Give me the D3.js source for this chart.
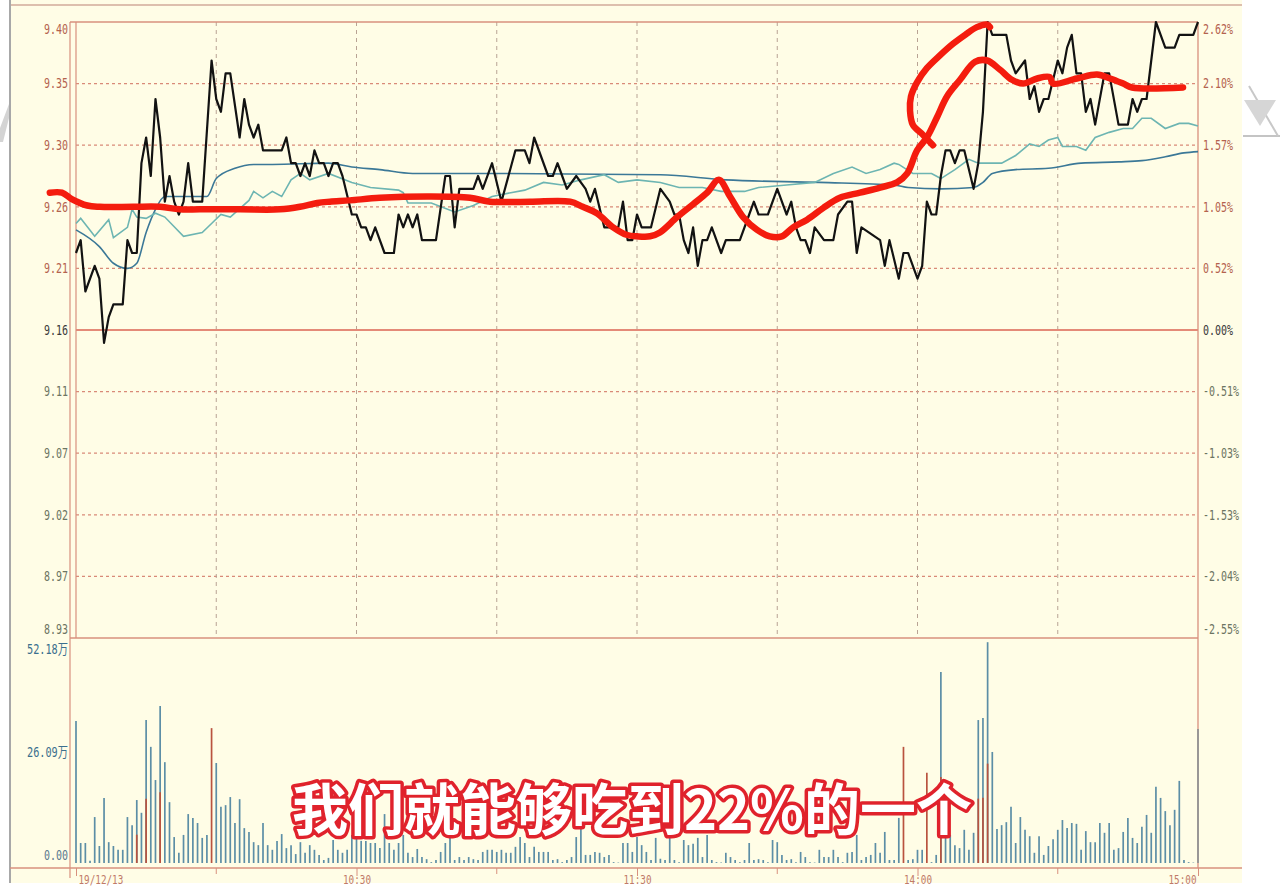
<!DOCTYPE html>
<html><head><meta charset="utf-8">
<script src="https://cdn.jsdelivr.net/npm/d3@7"></script>
<style>body{margin:0;background:#fff}svg{display:block}</style>
</head><body><svg id="c" width="1280" height="891"></svg>
<script>
// ---------------- DATA ----------------
const prevClose = 9.16;
const priceHalfRange = 0.24;
const gridStep = 0.048;
const priceTickLabels = ["9.40","9.35","9.30","9.26","9.21","9.16","9.11","9.07","9.02","8.97","8.93"];
const pctTickLabels = ["2.62%","2.10%","1.57%","1.05%","0.52%","0.00%","-0.51%","-1.03%","-1.53%","-2.04%","-2.55%"];
const volumeMax = 52.18;
const volumeTicks = [52.18, 26.09, 0];
const volumeTickLabels = ["52.18万","26.09万","0.00"];
const timeTicks = [0, 60, 120, 180, 240];
const timeTickLabels = ["19/12/13","10:30","11:30","14:00","15:00"];
const gridMinutes = [30, 60, 90, 120, 150, 180, 210];
const subtitle = "我们就能够吃到22%的一个";

// price line: [minute, price]
const pricePoints = [[0,9.22],[1,9.23],[2,9.19],[4,9.21],[5,9.20],[6,9.15],[7,9.17],[8,9.18],[10,9.18],[11,9.23],[12,9.22],[13,9.22],[14,9.29],[15,9.31],[16,9.28],[17,9.34],[18,9.31],[19,9.26],[20,9.28],[21,9.26],[22,9.25],[23,9.26],[24,9.29],[25,9.26],[27,9.26],[29,9.37],[30,9.34],[31,9.33],[32,9.36],[33,9.36],[35,9.31],[36,9.34],[37,9.32],[38,9.31],[39,9.32],[40,9.30],[44,9.30],[45,9.31],[46,9.29],[47,9.29],[48,9.28],[49,9.29],[50,9.28],[51,9.30],[52,9.29],[53,9.29],[54,9.28],[55,9.29],[56,9.29],[57,9.28],[59,9.25],[60,9.25],[61,9.24],[62,9.24],[63,9.23],[64,9.24],[66,9.22],[68,9.22],[69,9.25],[70,9.24],[71,9.25],[72,9.24],[73,9.25],[74,9.23],[77,9.23],[79,9.28],[80,9.28],[81,9.24],[82,9.27],[85,9.27],[86,9.28],[87,9.27],[89,9.29],[91,9.26],[94,9.30],[96,9.30],[97,9.29],[98,9.31],[101,9.28],[102,9.28],[103,9.29],[104,9.28],[105,9.27],[107,9.28],[109,9.27],[110,9.26],[111,9.27],[113,9.24],[116,9.24],[117,9.26],[118,9.23],[119,9.23],[120,9.25],[121,9.24],[123,9.24],[125,9.27],[127,9.26],[128,9.25],[129,9.25],[130,9.23],[131,9.22],[132,9.24],[133,9.21],[134,9.23],[135,9.23],[136,9.24],[138,9.22],[139,9.23],[142,9.23],[144,9.25],[145,9.26],[146,9.25],[148,9.25],[150,9.27],[152,9.25],[153,9.26],[154,9.24],[155,9.23],[156,9.23],[157,9.22],[158,9.24],[160,9.23],[162,9.23],[163,9.25],[165,9.26],[166,9.26],[167,9.22],[168,9.24],[172,9.23],[173,9.21],[174,9.23],[176,9.20],[177,9.22],[178,9.22],[180,9.20],[181,9.21],[182,9.26],[183,9.25],[184,9.25],[185,9.28],[186,9.30],[187,9.30],[188,9.29],[189,9.30],[190,9.30],[192,9.27],[193,9.29],[194,9.33],[195,9.40],[196,9.39],[199,9.39],[200,9.37],[201,9.36],[203,9.37],[204,9.34],[205,9.35],[206,9.33],[207,9.34],[208,9.34],[210,9.37],[211,9.36],[212,9.38],[213,9.39],[214,9.36],[215,9.36],[216,9.33],[217,9.34],[218,9.32],[220,9.36],[221,9.36],[223,9.32],[225,9.32],[226,9.34],[227,9.33],[228,9.34],[229,9.34],[231,9.40],[233,9.38],[235,9.38],[236,9.39],[239,9.39],[240,9.40]];

// average price line (dark blue)
const avgPoints = [[0,9.238],[5,9.225],[8,9.212],[11,9.208],[13,9.212],[15,9.236],[17,9.254],[19,9.264],[28,9.264],[30,9.278],[34,9.286],[38,9.289],[42,9.289],[54,9.290],[59,9.287],[65,9.285],[72,9.282],[91,9.282],[125,9.281],[139,9.277],[159,9.275],[175,9.273],[178,9.271],[185,9.270],[192,9.271],[194,9.275],[196,9.282],[201,9.285],[208,9.286],[215,9.290],[223,9.291],[228,9.292],[233,9.295],[237,9.298],[240,9.299]];

// second moving line (teal)
const tealPoints = [[0,9.243],[1,9.247],[4,9.233],[7,9.246],[8,9.232],[11,9.240],[12,9.254],[13,9.248],[15,9.247],[17,9.251],[19,9.248],[23,9.233],[27,9.236],[29,9.243],[31,9.250],[33,9.248],[37,9.261],[38,9.268],[40,9.263],[42,9.268],[44,9.264],[46,9.277],[48,9.282],[50,9.277],[54,9.282],[59,9.275],[63,9.271],[69,9.269],[70,9.267],[71,9.259],[76,9.259],[81,9.252],[85,9.257],[89,9.264],[93,9.267],[96,9.269],[100,9.275],[104,9.273],[108,9.277],[113,9.281],[116,9.275],[120,9.277],[125,9.275],[129,9.271],[134,9.271],[138,9.268],[143,9.268],[146,9.271],[152,9.273],[158,9.275],[162,9.282],[166,9.287],[169,9.282],[172,9.285],[175,9.290],[176,9.289],[179,9.282],[183,9.282],[185,9.278],[188,9.285],[191,9.293],[193,9.290],[198,9.290],[201,9.296],[204,9.305],[206,9.303],[208,9.308],[210,9.310],[211,9.303],[214,9.303],[216,9.300],[218,9.310],[221,9.314],[224,9.317],[226,9.317],[228,9.325],[230,9.325],[233,9.317],[236,9.321],[238,9.321],[240,9.319]];

// hand-drawn red annotation strokes: [minute, price]
const redStrokeMain = [[-5.6,9.267],[-3.0,9.267],[-0.9,9.262],[2.4,9.257],[5.1,9.256],[12.2,9.256],[18,9.256],[22.2,9.254],[26.5,9.254],[35.1,9.254],[43.6,9.254],[47.9,9.256],[51.6,9.259],[54.3,9.260],[58.6,9.261],[65,9.263],[75.7,9.264],[84.3,9.263],[88.6,9.260],[97.1,9.260],[105.7,9.260],[108.4,9.256],[111.4,9.251],[114.9,9.240],[117.9,9.234],[120,9.233],[122.8,9.233],[124.9,9.236],[128.6,9.248],[132,9.258],[135,9.267],[137.5,9.277],[139.9,9.264],[142.7,9.248],[145.7,9.238],[148.4,9.233],[151,9.233],[153.4,9.240],[156.4,9.246],[159.8,9.255],[163.4,9.263],[167.7,9.267],[172,9.271],[175.6,9.275],[177.8,9.282],[179.9,9.300],[182,9.310],[184.2,9.326],[186.3,9.342],[189.1,9.355],[192.3,9.369],[194.9,9.370],[197.6,9.363],[200.2,9.355],[202.6,9.352],[205.6,9.356],[208.3,9.357],[209,9.352],[214.1,9.356],[218.4,9.359],[221.2,9.356],[224,9.352],[225.9,9.349],[236.8,9.349]];
const redStrokeLoop = [[183.3,9.304],[181.2,9.312],[179,9.320],[178.4,9.331],[178.6,9.342],[179.9,9.353],[182,9.364],[184.8,9.374],[187.6,9.383],[190.2,9.390],[192.7,9.396],[194.9,9.398],[195.5,9.396]];

// volume per minute (万)
const volumes = [33.4,4.7,4.7,0.5,10.8,4.0,15.3,4.9,4.0,3.1,3.1,10.8,8.9,14.8,11.8,33.6,27.3,19.5,36.9,23.7,
14.3,6.1,2.4,6.6,11.5,10.6,9.4,5.9,6.6,31.7,23.5,13.2,13.6,15.5,9.4,15.0,8.2,7.3,4.9,4.2,
9.4,4.2,3.1,5.2,6.8,3.5,4.2,2.1,4.9,2.4,4.2,3.1,1.9,0.7,1.2,5.4,3.1,2.4,3.1,6.6,
6.1,5.2,5.2,4.7,4.7,3.5,11.5,4.7,3.1,4.7,6.6,2.4,1.4,3.3,1.4,0.9,0.2,0.7,2.6,4.7,
6.1,0.7,1.4,0.7,1.4,0.9,0.7,2.6,3.1,3.1,2.6,3.1,2.4,2.4,3.8,6.1,4.7,1.4,3.8,2.6,
2.6,2.6,0.7,0.9,0.2,0.7,1.4,6.1,8.5,1.9,1.9,2.6,2.4,1.4,1.9,0.2,0.1,4.7,4.7,2.6,
6.1,4.2,2.6,0.7,5.9,1.0,0.7,5.9,0.7,0.2,5.4,4.2,4.5,5.9,1.4,6.6,0.7,0.2,0.1,2.4,
1.4,0.7,0.2,0.7,4.7,0.7,0.9,0.7,0.2,5.4,4.9,1.9,0.7,0.9,0.2,2.6,1.4,0.2,0.1,3.1,
1.4,1.4,3.1,1.4,0.2,2.4,2.6,6.6,0.7,1.4,1.9,4.7,2.4,7.3,0.7,0.7,10.6,27.3,0.7,0.9,
3.1,3.1,21.2,0.2,1.9,44.9,8.0,6.6,4.2,3.5,7.8,3.1,7.1,33.6,34.1,51.9,26.1,8.0,8.9,9.6,
13.2,4.7,10.8,7.8,6.3,2.4,6.3,1.9,4.0,5.6,7.8,10.1,8.2,9.4,9.2,3.1,7.5,4.9,4.9,9.4,
7.1,9.4,3.1,3.5,7.3,10.6,5.9,4.7,8.5,11.3,7.1,17.9,15.3,12.2,8.9,12.5,19.3,0.7,0.2,0.1,
31.5];
const redVolumeMinutes = [29, 177, 182];
const mixedVolumeMinutes = [13, 15, 18, 185, 193, 194, 195];
const greyVolumeMinutes = [240];

// ---------------- DRAW ----------------
const svg = d3.select('#c');
const plot = {left:76, right:1198, top:22, bottom:638};
const vol = {top:641, bottom:863, axis:868};

const x = d3.scaleLinear().domain([0,240]).range([plot.left, plot.right]);
const y = d3.scaleLinear().domain([prevClose-priceHalfRange, prevClose+priceHalfRange]).range([plot.bottom, plot.top]);
const yv = d3.scaleLinear().domain([0, volumeMax]).range([vol.bottom, vol.top]);

const cream = '#fffde6';
svg.append('rect').attr('x',0).attr('y',0).attr('width',1280).attr('height',891).attr('fill','#fff');
svg.append('rect').attr('x',10).attr('y',0).attr('width',1232).attr('height',883).attr('fill',cream);

// watermark shapes (outside panel)
svg.append('path').attr('d','M1243,136 L1280,136').attr('stroke','#c4c4c4').attr('stroke-width',2);
svg.append('path').attr('d','M1249,86 L1278,136').attr('stroke','#c8c8c8').attr('stroke-width',2).attr('fill','none');
svg.append('path').attr('d','M1244,100 L1276,100 L1260,126 Z').attr('fill','#d6d6d6');
svg.append('path').attr('d','M0,128 L9,104 L9,118 L3,142 L0,142 Z').attr('fill','#d4d4d4');

// frame lines
svg.append('line').attr('x1',10).attr('x2',1242).attr('y1',5).attr('y2',5).attr('stroke','#d2aa9a').attr('stroke-width',1.5);
svg.append('line').attr('x1',10).attr('x2',10).attr('y1',0).attr('y2',883).attr('stroke','#a8a8a8').attr('stroke-width',2);

const borderColor = '#d8907e';
// horizontal dotted grid
const levels = d3.range(5,-6,-1).map(k => prevClose + k*gridStep);
svg.append('g').selectAll('line').data(levels.filter((d,i)=>i!==0 && i!==5 && i!==10)).join('line')
  .attr('x1',plot.left).attr('x2',plot.right).attr('y1',d=>y(d)).attr('y2',d=>y(d))
  .attr('stroke','#d98a78').attr('stroke-width',1.2).attr('stroke-dasharray','3,3');
// vertical dashed grid
svg.append('g').selectAll('line').data(gridMinutes).join('line')
  .attr('x1',d=>x(d)).attr('x2',d=>x(d)).attr('y1',plot.top).attr('y2',plot.bottom)
  .attr('stroke','#b9a394').attr('stroke-width',1).attr('stroke-dasharray','4,4');
// prev close line
svg.append('line').attr('x1',plot.left).attr('x2',plot.right).attr('y1',y(prevClose)).attr('y2',y(prevClose))
  .attr('stroke','#e48a78').attr('stroke-width',2);

// borders
svg.append('line').attr('x1',70).attr('x2',plot.right).attr('y1',plot.top).attr('y2',plot.top).attr('stroke',borderColor).attr('stroke-width',1.3);
svg.append('line').attr('x1',70).attr('x2',plot.right).attr('y1',plot.bottom).attr('y2',plot.bottom).attr('stroke',borderColor).attr('stroke-width',1.5);
svg.append('line').attr('x1',70).attr('x2',70).attr('y1',plot.top).attr('y2',878).attr('stroke',borderColor).attr('stroke-width',1.2);
svg.append('line').attr('x1',plot.left).attr('x2',plot.left).attr('y1',plot.top).attr('y2',plot.bottom).attr('stroke',borderColor).attr('stroke-width',1.2);
svg.append('line').attr('x1',plot.right).attr('x2',plot.right).attr('y1',plot.top).attr('y2',vol.axis).attr('stroke',borderColor).attr('stroke-width',1.3);
svg.append('line').attr('x1',10).attr('x2',1242).attr('y1',vol.axis).attr('y2',vol.axis).attr('stroke',borderColor).attr('stroke-width',1.5);

// label colors
const upColor = '#b4624e', flatColor = '#3a3a3a', downColor = '#6c7462';
const labelFont = "'DejaVu Sans Mono','Liberation Mono',monospace";

// left price axis
const leftAxis = d3.axisLeft(y).tickValues(levels).tickFormat((d,i)=>priceTickLabels[i]).tickSize(0).tickPadding(2);
const gL = svg.append('g').attr('transform','translate(70,0)').call(leftAxis);
gL.select('.domain').remove();
gL.selectAll('text').attr('font-family',labelFont).attr('font-size',13.5)
  .attr('fill',(d,i)=> i<5?upColor:(i===5?flatColor:downColor))
  .attr('textLength',(d,i)=>priceTickLabels[i].length*6).attr('lengthAdjust','spacingAndGlyphs')
  .attr('dy',(d,i)=> i===0? '0.85em' : (i===10 ? '-0.3em' : '0.32em'));

// right pct axis
const rightAxis = d3.axisRight(y).tickValues(levels).tickFormat((d,i)=>pctTickLabels[i]).tickSize(0).tickPadding(5);
const gR = svg.append('g').attr('transform',`translate(${plot.right},0)`).call(rightAxis);
gR.select('.domain').remove();
gR.selectAll('text').attr('font-family',labelFont).attr('font-size',13.5)
  .attr('fill',(d,i)=> i<5?upColor:(i===5?flatColor:downColor))
  .attr('textLength',(d,i)=>pctTickLabels[i].length*6).attr('lengthAdjust','spacingAndGlyphs')
  .attr('dy',(d,i)=> i===0? '0.85em' : (i===10 ? '-0.3em' : '0.32em'));

// volume axis
const volAxis = d3.axisLeft(yv).tickValues(volumeTicks).tickFormat((d,i)=>volumeTickLabels[i]).tickSize(0).tickPadding(2);
const gV = svg.append('g').attr('transform','translate(70,0)').call(volAxis);
gV.select('.domain').remove();
gV.selectAll('text').attr('font-family',"'DejaVu Sans Mono','Noto Sans CJK SC',monospace").attr('font-size',13.5)
  .attr('fill',(d,i)=> i===2 ? '#5a7890' : '#3b6f8e')
  .attr('textLength',(d,i)=> volumeTickLabels[i].length===6 ? 41 : 24).attr('lengthAdjust','spacingAndGlyphs')
  .attr('dy',(d,i)=> i===0? '0.9em' : (i===2 ? '-0.25em' : '0.32em'));

// time axis
const timeAxis = d3.axisBottom(x).tickValues(timeTicks).tickFormat((d,i)=>timeTickLabels[i]).tickSize(8).tickPadding(-1);
const gT = svg.append('g').attr('transform',`translate(0,${vol.axis})`).call(timeAxis);
gT.select('.domain').remove();
gT.selectAll('line').attr('stroke',borderColor);
gT.selectAll('text').attr('font-family',labelFont).attr('font-size',12).attr('fill','#c07a68')
  .attr('text-anchor',(d,i)=> i===0?'start':(i===4?'end':'middle'))
  .attr('dx',(d,i)=> i===0? 2 : (i===4 ? -2 : 0))
  .attr('textLength',(d,i)=>timeTickLabels[i].length*5.6).attr('lengthAdjust','spacingAndGlyphs');
svg.append('g').selectAll('line').data(gridMinutes.filter(d=>d%60!==0)).join('line')
  .attr('x1',d=>x(d)).attr('x2',d=>x(d)).attr('y1',vol.axis).attr('y2',vol.axis+6).attr('stroke',borderColor);

// volume bars
const volColor = i => redVolumeMinutes.includes(i) ? '#b9533f' : (greyVolumeMinutes.includes(i) ? '#8c9294' : '#5c8ea6');
svg.append('g').selectAll('line').data(volumes).join('line')
  .attr('x1',(d,i)=>x(i)).attr('x2',(d,i)=>x(i))
  .attr('y1',yv(0)).attr('y2',d=>yv(d))
  .attr('stroke',(d,i)=>volColor(i)).attr('stroke-width',1.7);
svg.append('g').selectAll('line').data(mixedVolumeMinutes).join('line')
  .attr('x1',d=>x(d)).attr('x2',d=>x(d))
  .attr('y1',yv(0)).attr('y2',d=>yv(volumes[d]*0.45))
  .attr('stroke','#b9533f').attr('stroke-width',1.7);

// lines
svg.append('path').datum(avgPoints).attr('d',d3.line().x(d=>x(d[0])).y(d=>y(d[1])).curve(d3.curveMonotoneX)).attr('fill','none').attr('stroke','#3b7897').attr('stroke-width',1.6);
svg.append('path').datum(tealPoints).attr('d',d3.line().x(d=>x(d[0])).y(d=>y(d[1]))).attr('fill','none').attr('stroke','#6db5b2').attr('stroke-width',1.6);
svg.append('path').datum(pricePoints).attr('d',d3.line().x(d=>x(d[0])).y(d=>y(d[1]))).attr('fill','none').attr('stroke','#121212').attr('stroke-width',2.2).attr('stroke-linejoin','round');

// red annotation
const redLine = d3.line().x(d=>x(d[0])).y(d=>y(d[1])).curve(d3.curveCatmullRom.alpha(0.5));
[redStrokeMain, redStrokeLoop].forEach(pts => {
  svg.append('path').datum(pts).attr('d',redLine).attr('fill','none')
    .attr('stroke','#f41c0e').attr('stroke-width',6.5).attr('stroke-linecap','round').attr('stroke-linejoin','round');
});

// subtitle
svg.append('text').attr('x',632).attr('y',830).attr('text-anchor','middle')
  .attr('font-family',"'Noto Sans CJK SC','Noto Sans',sans-serif").attr('font-weight',700).attr('font-size',56)
  .attr('fill','#ffffff').attr('stroke','#e0222c').attr('stroke-width',7).attr('stroke-linejoin','round')
  .attr('paint-order','stroke fill').text(subtitle);
</script>
</body></html>
